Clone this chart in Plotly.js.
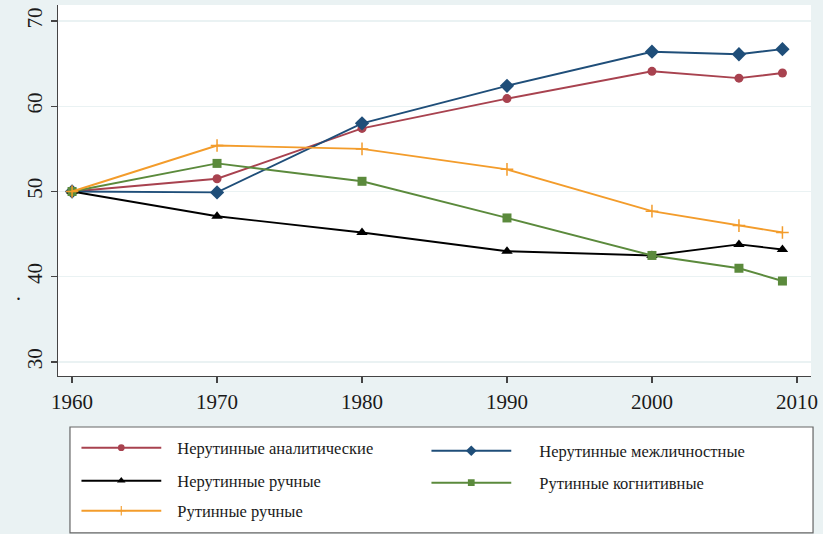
<!DOCTYPE html>
<html>
<head>
<meta charset="utf-8">
<script src="https://cdn.plot.ly/plotly-3.0.1.min.js"></script>
<style>html,body{margin:0;padding:0;background:#eaf2f3;}#chart{width:823px;height:534px;}</style>
</head>
<body>
<div id="chart"></div>
<script>
const years = [1960, 1970, 1980, 1990, 2000, 2006, 2009];
const nonroutineAnalytic = [50, 51.5, 57.4, 60.9, 64.1, 63.3, 63.9];
const nonroutineInterpersonal = [50, 49.9, 58.0, 62.4, 66.4, 66.1, 66.7];
const nonroutineManual = [50, 47.1, 45.2, 43.0, 42.5, 43.8, 43.2];
const routineCognitive = [50, 53.3, 51.2, 46.9, 42.5, 41.0, 39.5];
const routineManual = [50, 55.4, 55.0, 52.6, 47.7, 46.0, 45.2];
const seriesNames = ["Нерутинные аналитические", "Нерутинные межличностные", "Нерутинные ручные", "Рутинные когнитивные", "Рутинные ручные"];
const xTicks = [1960, 1970, 1980, 1990, 2000, 2010];
const yTicks = [30, 40, 50, 60, 70];

const serif = 'Times New Roman, Liberation Serif, serif';
function tr(y, name, color, symbol, size, legendId) {
  return {
    x: years, y: y, name: name, type: 'scatter', mode: 'lines+markers', legend: legendId,
    line: {color: color, width: 1.9},
    marker: {color: color, symbol: symbol, size: size, line: {color: color, width: symbol === 'cross-thin' ? 1.5 : 0}}
  };
}
const data = [
  tr(nonroutineAnalytic, seriesNames[0], '#a8424f', 'circle', 9, 'legend'),
  tr(nonroutineInterpersonal, seriesNames[1], '#1f4e79', 'diamond', 11, 'legend2'),
  tr(nonroutineManual, seriesNames[2], '#000000', 'triangle-up', 10, 'legend3'),
  tr(routineCognitive, seriesNames[3], '#5b8a3c', 'square', 9, 'legend4'),
  tr(routineManual, seriesNames[4], '#f39c2b', 'cross-thin', 9, 'legend5')
];
function leg(x, y, iw) {
  return {
    orientation: 'v', x: x, y: y, xanchor: 'left', yanchor: 'middle',
    bgcolor: 'rgba(0,0,0,0)', borderwidth: 0,
    font: {family: serif, size: 16.5, color: '#1a1a1a'},
    itemwidth: iw
  };
}
const layout = {
  width: 823, height: 534,
  paper_bgcolor: '#eaf2f3', plot_bgcolor: '#ffffff',
  margin: {l: 58, r: 12, t: 5, b: 158},
  font: {family: serif, color: '#1a1a1a'},
  showlegend: true,
  legend: leg(0.0309, -0.1941, 86),
  legend2: leg(0.4957, -0.2022, 98),
  legend3: leg(0.0309, -0.2830, 86),
  legend4: leg(0.4957, -0.2884, 98),
  legend5: leg(0.0309, -0.3639, 86),
  xaxis: {
    range: [1959.03, 2010.97], tickvals: xTicks, ticktext: xTicks.map(String),
    showgrid: false, zeroline: false, showline: true, linecolor: '#444', linewidth: 1.3,
    ticks: 'outside', ticklen: 6, tickcolor: '#444', tickwidth: 1.3,
    tickfont: {family: serif, size: 21, color: '#1a1a1a'}
  },
  yaxis: {
    range: [28.36, 71.88], tickvals: yTicks, ticktext: yTicks.map(String),
    showgrid: true, gridcolor: '#eaf2f3', gridwidth: 1.2, zeroline: false,
    showline: true, linecolor: '#444', linewidth: 1.3,
    ticks: 'outside', ticklen: 6, tickcolor: '#444', tickwidth: 1.3, tickangle: -90,
    tickfont: {family: serif, size: 21, color: '#1a1a1a'}
  },
  shapes: [{
    type: 'rect', xref: 'paper', yref: 'paper', x0: 0.0159, x1: 1.0027, y0: -0.1375, y1: -0.423,
    fillcolor: '#ffffff', line: {color: '#666', width: 1.2}, layer: 'below'
  }],
  annotations: [{
    xref: 'paper', yref: 'paper', x: -0.058, y: 0.188, text: '.', showarrow: false,
    font: {family: serif, size: 20, color: '#1a1a1a'}
  }]
};
Plotly.newPlot('chart', data, layout, {displayModeBar: false, staticPlot: true}).then(function(gd) {
  // lengthen legend sample lines and shrink legend markers to match the reference swatches
  gd.querySelectorAll('.legendlines path').forEach(function(p) { p.setAttribute('d', 'M0,0h80'); });
  gd.querySelectorAll('.legendpoints path').forEach(function(p) { p.setAttribute('transform', 'translate(40,0) scale(0.75)'); });
});
</script>
</body>
</html>
